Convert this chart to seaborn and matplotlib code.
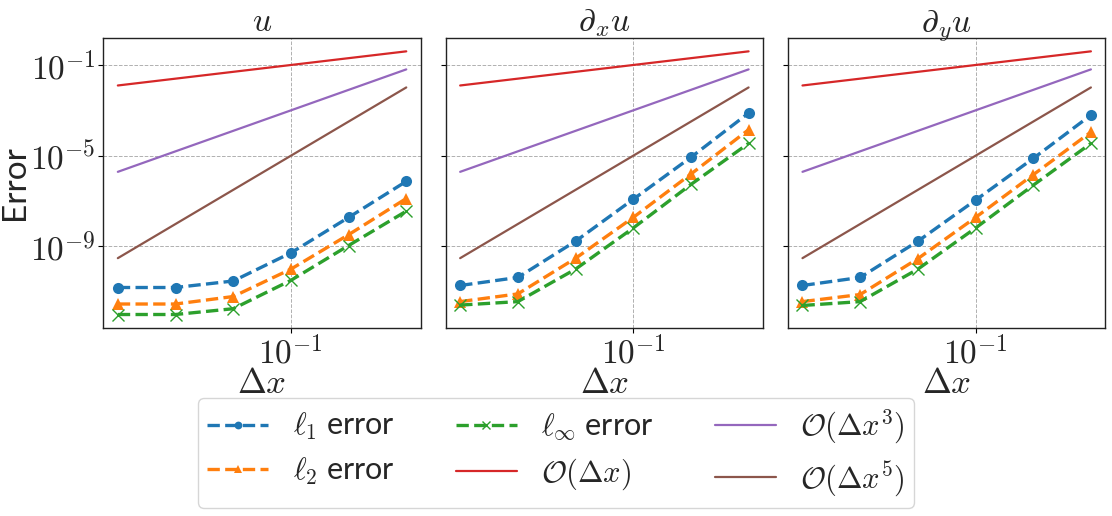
import matplotlib
matplotlib.use("Agg")
import matplotlib.pyplot as plt
import seaborn as sns
import numpy as np

sns.set_style("white")
plt.rcParams['font.family'] = ['Lato', 'DejaVu Sans']
plt.rcParams['mathtext.fontset'] = 'cm'

# Data
dx = [0.0125, 0.025, 0.05, 0.1, 0.2, 0.4]
ref1 = [0.0125, 0.025, 0.05, 0.1, 0.2, 0.4]
ref3 = [1.95e-6, 1.5625e-5, 1.25e-4, 1e-3, 8e-3, 6.4e-2]
ref5 = [3.05e-10, 9.77e-9, 3.125e-7, 1e-5, 3.2e-4, 1.024e-2]

titles = [r'$u$', r'$\partial_x u$', r'$\partial_y u$']

u_l1 = [1.55e-11, 1.55e-11, 3.0e-11, 5.2e-10, 1.9e-8, 7.4e-7]
u_l2 = [2.9e-12, 2.9e-12, 6.2e-12, 1.0e-10, 3.3e-9, 1.3e-7]
u_linf = [1.0e-12, 1.0e-12, 1.8e-12, 3.2e-11, 1.1e-9, 3.6e-8]

dxu_l1 = [1.9e-11, 4.3e-11, 1.7e-9, 1.2e-7, 8.5e-6, 7.6e-4]
dxu_l2 = [3.7e-12, 8.1e-12, 3.0e-10, 1.9e-8, 1.55e-6, 1.4e-4]
dxu_linf = [2.6e-12, 3.7e-12, 1.0e-10, 6.5e-9, 5.4e-7, 3.5e-5]

dyu_l1 = [1.9e-11, 4.3e-11, 1.7e-9, 1.1e-7, 7.6e-6, 6.2e-4]
dyu_l2 = [3.7e-12, 7.6e-12, 2.9e-10, 1.9e-8, 1.45e-6, 1.1e-4]
dyu_linf = [2.5e-12, 3.7e-12, 1.0e-10, 6.5e-9, 5.0e-7, 3.5e-5]

panels = [(u_l1, u_l2, u_linf), (dxu_l1, dxu_l2, dxu_linf), (dyu_l1, dyu_l2, dyu_linf)]

series_labels = [r'$\ell_1$ error', r'$\ell_2$ error', r'$\ell_\infty$ error']
ref_labels = [r'$\mathcal{O}(\Delta x)$', r'$\mathcal{O}(\Delta x^3)$', r'$\mathcal{O}(\Delta x^5)$']
pal = sns.color_palette("tab10")

fig, axes = plt.subplots(1, 3, figsize=(11.12, 5.16), dpi=100, sharey=True)
fig.subplots_adjust(left=0.093, right=0.994, top=0.926, bottom=0.365, wspace=0.079)

markers = ['o', '^', 'x']
for i, ax in enumerate(axes):
    for j, vals in enumerate(panels[i]):
        sns.lineplot(x=dx, y=vals, ax=ax, color=pal[j], marker=markers[j],
                     linestyle='--', linewidth=2.4, markersize=8,
                     markeredgewidth=1.0 if j == 2 else 0,
                     markeredgecolor=pal[j],
                     label=series_labels[j], legend=False)
    for k, vals in enumerate([ref1, ref3, ref5]):
        sns.lineplot(x=dx, y=vals, ax=ax, color=pal[3 + k], linewidth=1.6,
                     label=ref_labels[k], legend=False)
    ax.set_xscale('log')
    ax.set_yscale('log')
    ax.set_title(titles[i], fontsize=24, pad=5)
    ax.set_xlabel(r'$\Delta x$', fontsize=25, labelpad=-2)
    ax.set_xticks([0.1])
    ax.set_xticklabels([r'$10^{-1}$'])
    ax.set_yticks([1e-1, 1e-5, 1e-9])
    ax.set_yticklabels([r'$10^{-1}$', r'$10^{-5}$', r'$10^{-9}$'])
    ax.minorticks_off()
    ax.tick_params(axis='both', labelsize=24, length=3.5, width=0.8, direction='out',
                   bottom=True, left=True, color='black')
    ax.tick_params(axis='x', pad=2)
    ax.tick_params(axis='y', pad=2)
    ax.grid(True, which='major', linestyle='--', color='#b0b0b0', linewidth=0.7)
    for s in ax.spines.values():
        s.set_color('#222222')
        s.set_linewidth(1.0)

axes[0].set_ylabel('Error', fontsize=24)
axes[0].yaxis.set_label_coords(-0.232, 0.5)

handles, labels = axes[0].get_legend_handles_labels()
fig.legend(handles, labels, loc='upper center', bbox_to_anchor=(0.5, 0.258),
           ncol=3, fontsize=22, markerscale=0.7, frameon=True, columnspacing=2.0,
           handlelength=2.0, borderpad=0.3, labelspacing=0.45)

fig.savefig('out.png', dpi=100)
